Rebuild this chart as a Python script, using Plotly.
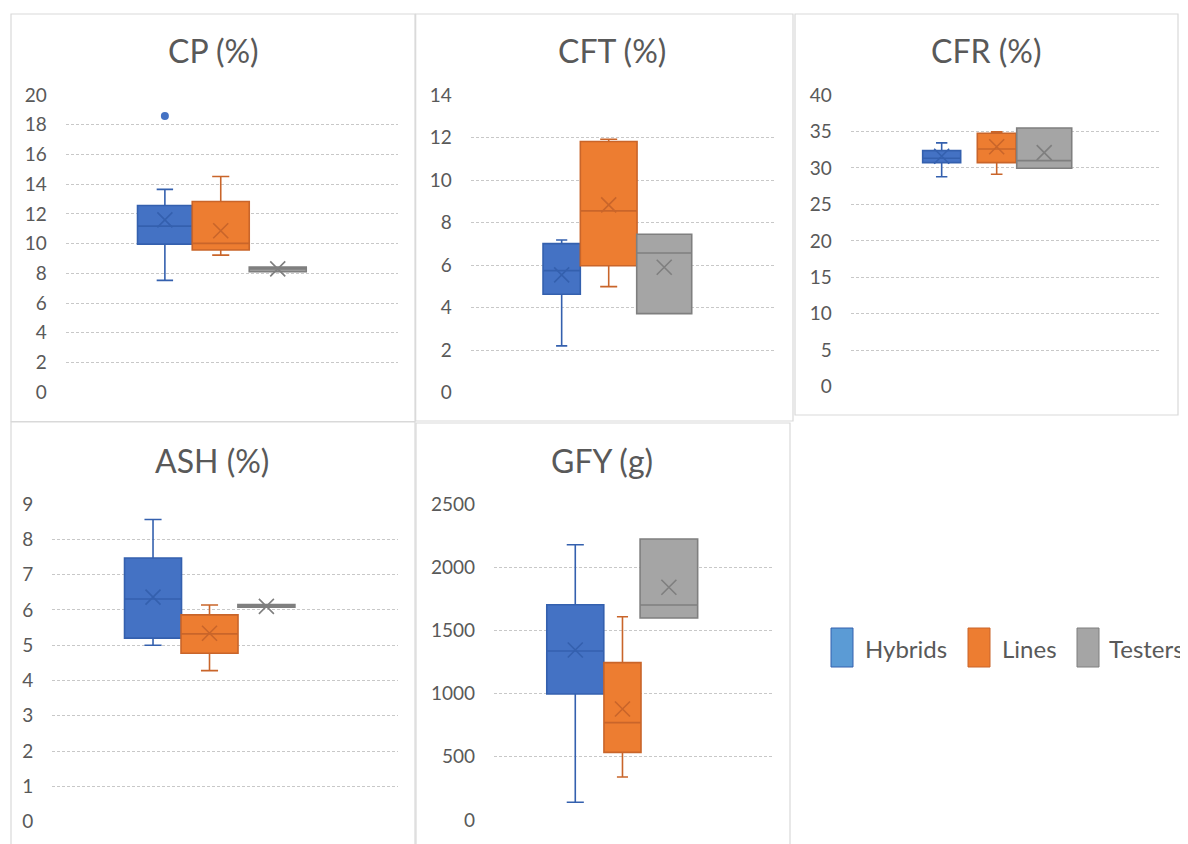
import plotly.graph_objects as go

FIG_W, FIG_H = 1188, 844

# ---------------- data ----------------
categories = ["Hybrids", "Lines", "Testers"]
titles = ["CP (%)", "CFT (%)", "CFR (%)", "ASH (%)", "GFY (g)"]

cp_min = [7.53, 9.23, 8.12]
cp_q1 = [9.97, 9.57, 8.12]
cp_median = [11.18, 10.02, 8.30]
cp_q3 = [12.57, 12.84, 8.42]
cp_max = [13.65, 14.52, 8.42]
cp_mean = [11.60, 10.87, 8.30]
cp_outliers = [[18.58], [], []]

cft_min = [2.20, 4.99, 3.72]
cft_q1 = [4.63, 5.97, 3.72]
cft_median = [5.74, 8.55, 6.57]
cft_q3 = [7.01, 11.81, 7.45]
cft_max = [7.18, 11.92, 7.45]
cft_mean = [5.54, 8.83, 5.90]
cft_outliers = [[], [], []]

cfr_min = [28.80, 29.13, 29.95]
cfr_q1 = [30.73, 30.73, 29.95]
cfr_median = [31.33, 32.60, 31.00]
cfr_q3 = [32.37, 34.76, 35.48]
cfr_max = [33.43, 34.94, 35.48]
cfr_mean = [31.60, 32.90, 32.10]
cfr_outliers = [[], [], []]

ash_min = [5.00, 4.28, 6.08]
ash_q1 = [5.20, 4.77, 6.08]
ash_median = [6.31, 5.32, 6.12]
ash_q3 = [7.47, 5.86, 6.15]
ash_max = [8.56, 6.14, 6.15]
ash_mean = [6.36, 5.34, 6.10]
ash_outliers = [[], [], []]

gfy_min = [140, 340, 1598]
gfy_q1 = [997, 535, 1598]
gfy_median = [1337, 770, 1701]
gfy_q3 = [1703, 1245, 2223]
gfy_max = [2178, 1608, 2223]
gfy_mean = [1345, 878, 1841]
gfy_outliers = [[], [], []]

y_max = [20, 14, 40, 9, 2500]
y_step = [2, 2, 5, 1, 500]

stats = [
    (cp_min, cp_q1, cp_median, cp_q3, cp_max, cp_mean, cp_outliers),
    (cft_min, cft_q1, cft_median, cft_q3, cft_max, cft_mean, cft_outliers),
    (cfr_min, cfr_q1, cfr_median, cfr_q3, cfr_max, cfr_mean, cfr_outliers),
    (ash_min, ash_q1, ash_median, ash_q3, ash_max, ash_mean, ash_outliers),
    (gfy_min, gfy_q1, gfy_median, gfy_q3, gfy_max, gfy_mean, gfy_outliers),
]

# ---------------- styles / layout ----------------
fill_colors = ["#4472C4", "#ED7D31", "#A5A5A5"]
line_colors = ["#3460AE", "#C9652A", "#7F7F7F"]
legend_colors = ["#5B9BD5", "#ED7D31", "#A5A5A5"]
TEXT = "#595959"
GRID = "#c8c8c8"
FONT = "Lato, 'Open Sans', sans-serif"

PAGE_MARGIN = 8  # default body margin of the html page

# plot areas in screen pixels: left, top, right, bottom
PLOT_PX = [(65.7, 95, 398, 392.3), (470.7, 95, 776, 392.7), (850.7, 95, 1160.7, 386.7),
           (52.3, 504, 398.3, 821.7), (494, 504, 773.3, 820)]
SLOT_PX = 57.0
BOX_CENTERS = [[1.74, 2.72, 3.72], [1.596, 2.421, 3.395], [1.596, 2.561, 3.395],
               [1.767, 2.758, 3.756], [1.426, 2.254, 3.068]]
BOX_WIDTHS = [[0.96, 1.0, 1.0], [0.654, 0.995, 0.965], [0.667, 0.68, 0.965],
              [1.0, 1.0, 1.0], [1.0, 0.65, 1.01]]
TITLE_POS = [(213, 50), (612, 50), (986, 50), (212, 460), (602, 460)]
FRAMES = [(11, 14, 415, 421.5), (415.7, 14, 793, 421), (795, 14, 1178, 415),
          (11, 422, 415, 870), (416, 423, 790, 870)]


def px_x(v):
    return (v - PAGE_MARGIN) / FIG_W


def px_y(v):
    return 1 - (v - PAGE_MARGIN) / FIG_H


fig = go.Figure()
layout_axes = {}
annotations = []
shapes = []

for p, (mn, q1, med, q3, mx, mean, outl) in enumerate(stats):
    xa = "x" if p == 0 else f"x{p+1}"
    ya = "y" if p == 0 else f"y{p+1}"
    for i, cat in enumerate(categories):
        c = BOX_CENTERS[p][i]
        fig.add_trace(go.Box(
            x=[c], q1=[q1[i]], median=[med[i]], q3=[q3[i]],
            lowerfence=[mn[i]], upperfence=[mx[i]],
            width=BOX_WIDTHS[p][i], whiskerwidth=0.3,
            fillcolor=fill_colors[i], line=dict(color=line_colors[i], width=1.6),
            boxpoints=False, name=cat, showlegend=False, hoverinfo="skip",
            xaxis=xa, yaxis=ya,
        ))
        fig.add_trace(go.Scatter(
            x=[c], y=[mean[i]], mode="markers",
            marker=dict(symbol="x-thin-open", size=15, color=line_colors[i],
                        line=dict(color=line_colors[i], width=1.6)),
            showlegend=False, hoverinfo="skip", xaxis=xa, yaxis=ya,
        ))
        if outl[i]:
            fig.add_trace(go.Scatter(
                x=[c] * len(outl[i]), y=outl[i], mode="markers",
                marker=dict(symbol="circle", size=8, color=fill_colors[i]),
                showlegend=False, hoverinfo="skip", xaxis=xa, yaxis=ya,
            ))

    l, t, r, b = PLOT_PX[p]
    xr = (r - l) / SLOT_PX
    key = "" if p == 0 else str(p + 1)
    layout_axes["xaxis" + key] = dict(
        domain=[px_x(l), px_x(r)], range=[0, xr], anchor=ya,
        tickvals=[0], showticklabels=False, showgrid=True, gridcolor=GRID,
        griddash="3px,2px", gridwidth=1, zeroline=False, showline=False, ticks="",
        automargin=False,
    )
    layout_axes["yaxis" + key] = dict(
        domain=[px_y(b), px_y(t)], range=[0, y_max[p]], anchor=xa,
        dtick=y_step[p], tick0=0, showgrid=True, gridcolor=GRID,
        griddash="3px,2px", gridwidth=1, zeroline=False, showline=False, ticks="",
        tickfont=dict(family=FONT, size=19, color=TEXT), ticklabelstandoff=18,
        automargin=False,
    )
    tx, ty = TITLE_POS[p]
    annotations.append(dict(
        text=titles[p], x=px_x(tx), y=px_y(ty), xref="paper", yref="paper",
        xanchor="center", yanchor="middle", showarrow=False,
        font=dict(family=FONT, size=32, color=TEXT),
    ))
    fl, ft, fr, fb = FRAMES[p]
    shapes.append(dict(type="rect", xref="paper", yref="paper",
                       x0=px_x(fl), x1=px_x(fr), y0=px_y(fb), y1=px_y(ft),
                       line=dict(color="#d9d9d9", width=1.2), fillcolor="rgba(0,0,0,0)",
                       layer="below"))

# custom legend (tall swatches as in the original)
LEG_SWATCH_X = [831, 968, 1077]
LEG_TEXT_X = [863, 1000, 1107]
LEG_Y0, LEG_Y1 = 628, 667
for i, cat in enumerate(categories):
    shapes.append(dict(type="rect", xref="paper", yref="paper",
                       x0=px_x(LEG_SWATCH_X[i]), x1=px_x(LEG_SWATCH_X[i] + 22),
                       y0=px_y(LEG_Y1), y1=px_y(LEG_Y0),
                       fillcolor=legend_colors[i], line=dict(color=line_colors[i], width=1)))
    annotations.append(dict(
        text=cat, x=px_x(LEG_TEXT_X[i]), y=px_y(648), xref="paper", yref="paper",
        xanchor="left", yanchor="middle", showarrow=False,
        font=dict(family=FONT, size=24, color=TEXT),
    ))

fig.update_layout(
    width=FIG_W, height=FIG_H, margin=dict(l=0, r=0, t=0, b=0, pad=0, autoexpand=False),
    paper_bgcolor="white", plot_bgcolor="white",
    boxmode="overlay", showlegend=False,
    annotations=annotations, shapes=shapes,
    **layout_axes,
)

fig.write_html("out.html")
